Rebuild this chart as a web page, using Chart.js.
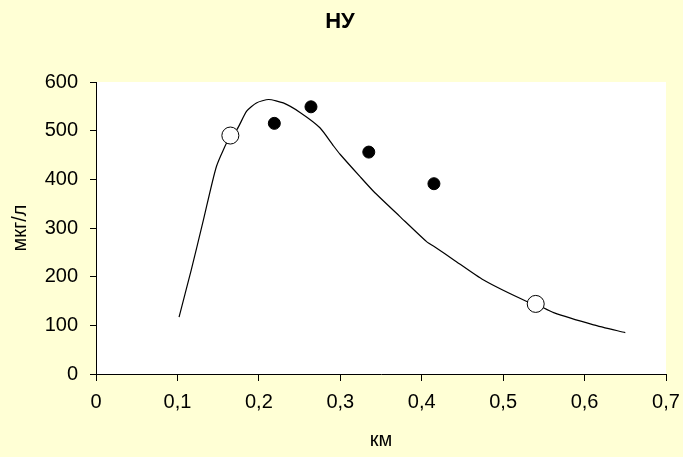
<!DOCTYPE html>
<html>
<head>
<meta charset="utf-8">
<script src="https://cdn.jsdelivr.net/npm/chart.js@4/dist/chart.umd.min.js"></script>
<style>
    html, body { margin: 0; padding: 0; background: #FFFFD5; }
    #wrap { width: 683px; height: 457px; }
</style>
</head>
<body>
<div id="wrap"><canvas id="chart" width="683" height="457"></canvas></div>
<script>
// fitted curve, km -> мкг/л
let curveX = [0.102, 0.117, 0.132, 0.148, 0.165, 0.173, 0.185, 0.197, 0.212, 0.230, 0.251, 0.275, 0.292, 0.300, 0.324, 0.341, 0.373, 0.406, 0.418, 0.439, 0.476, 0.529, 0.540, 0.562, 0.611, 0.650];
let curveY = [117, 214, 317, 427, 490, 502, 540, 557, 564, 557, 537, 506, 468, 451, 406, 375, 324, 272, 259, 235, 193, 149, 144, 126, 101, 85];

// measured values
let measuredX = [0.219, 0.264, 0.335, 0.415];
let measuredY = [515, 549, 456, 391];

// reference points on the curve
let refX = [0.165, 0.540];
let refY = [490, 144];

let xTicks = [0, 0.1, 0.2, 0.3, 0.4, 0.5, 0.6, 0.7];

const toPoints = (xs, ys) => xs.map((x, i) => ({ x: x, y: ys[i] }));

// yellow page, white plot area
const backgroundPlugin = {
    id: 'bg',
    beforeDraw(chart) {
        const ctx = chart.ctx;
        const a = chart.chartArea;
        ctx.save();
        ctx.fillStyle = '#FFFFD5';
        ctx.fillRect(0, 0, chart.width, chart.height);
        ctx.fillStyle = '#FFFFFF';
        ctx.fillRect(a.left, a.top, a.right - a.left, a.bottom - a.top);
        ctx.restore();
    }
};

const font = { family: 'Liberation Sans, Arial, sans-serif', size: 20 };

new Chart(document.getElementById('chart').getContext('2d'), {
    type: 'scatter',
    data: {
        datasets: [
            {
                data: toPoints(curveX, curveY),
                showLine: true,
                borderColor: '#000',
                borderWidth: 1.2,
                pointRadius: 0,
                tension: 0.2,
                order: 3
            },
            {
                data: toPoints(measuredX, measuredY),
                backgroundColor: '#000',
                borderColor: '#000',
                pointRadius: 6,
                order: 2
            },
            {
                data: toPoints(refX, refY),
                backgroundColor: '#FFFFFF',
                borderColor: '#000',
                borderWidth: 1,
                pointRadius: 8.5,
                order: 1
            }
        ]
    },
    options: {
        responsive: false,
        animation: false,
        layout: { autoPadding: false, padding: { left: 14, right: 17, top: 0, bottom: 0 } },
        plugins: {
            legend: { display: false },
            tooltip: { enabled: false },
            title: {
                display: true,
                text: 'НУ',
                color: '#000',
                font: { family: 'Liberation Sans, Arial, sans-serif', size: 22, weight: 'bold' },
                padding: { top: 9, bottom: 46.6 }
            }
        },
        scales: {
            x: {
                type: 'linear',
                min: 0,
                max: 0.7,
                afterFit: (scale) => {
                    scale.height = 83;
                    // keep the last label from shrinking the plot
                    scale.paddingLeft = 0;
                    scale.paddingRight = 0;
                },
                afterBuildTicks: (scale) => { scale.ticks = xTicks.map(v => ({ value: v })); },
                border: { color: '#000', width: 1 },
                grid: { drawOnChartArea: false, color: '#000', tickLength: 7 },
                ticks: {
                    color: '#000',
                    font: font,
                    padding: 9,
                    maxRotation: 0,
                    callback: (v) => String(v).replace('.', ',')
                },
                title: {
                    display: true,
                    text: 'км',
                    color: '#000',
                    font: font,
                    padding: { top: 0, bottom: 5 }
                }
            },
            y: {
                min: 0,
                max: 600,
                afterFit: (scale) => { scale.width = 82; },
                border: { color: '#000', width: 1 },
                grid: { drawOnChartArea: false, color: '#000', tickLength: 6 },
                ticks: {
                    color: '#000',
                    font: font,
                    padding: 12,
                    stepSize: 100
                },
                title: {
                    display: true,
                    text: 'мкг/л',
                    color: '#000',
                    font: font,
                    padding: { top: -6, bottom: 0 }
                }
            }
        }
    },
    plugins: [backgroundPlugin]
});
</script>
</body>
</html>
